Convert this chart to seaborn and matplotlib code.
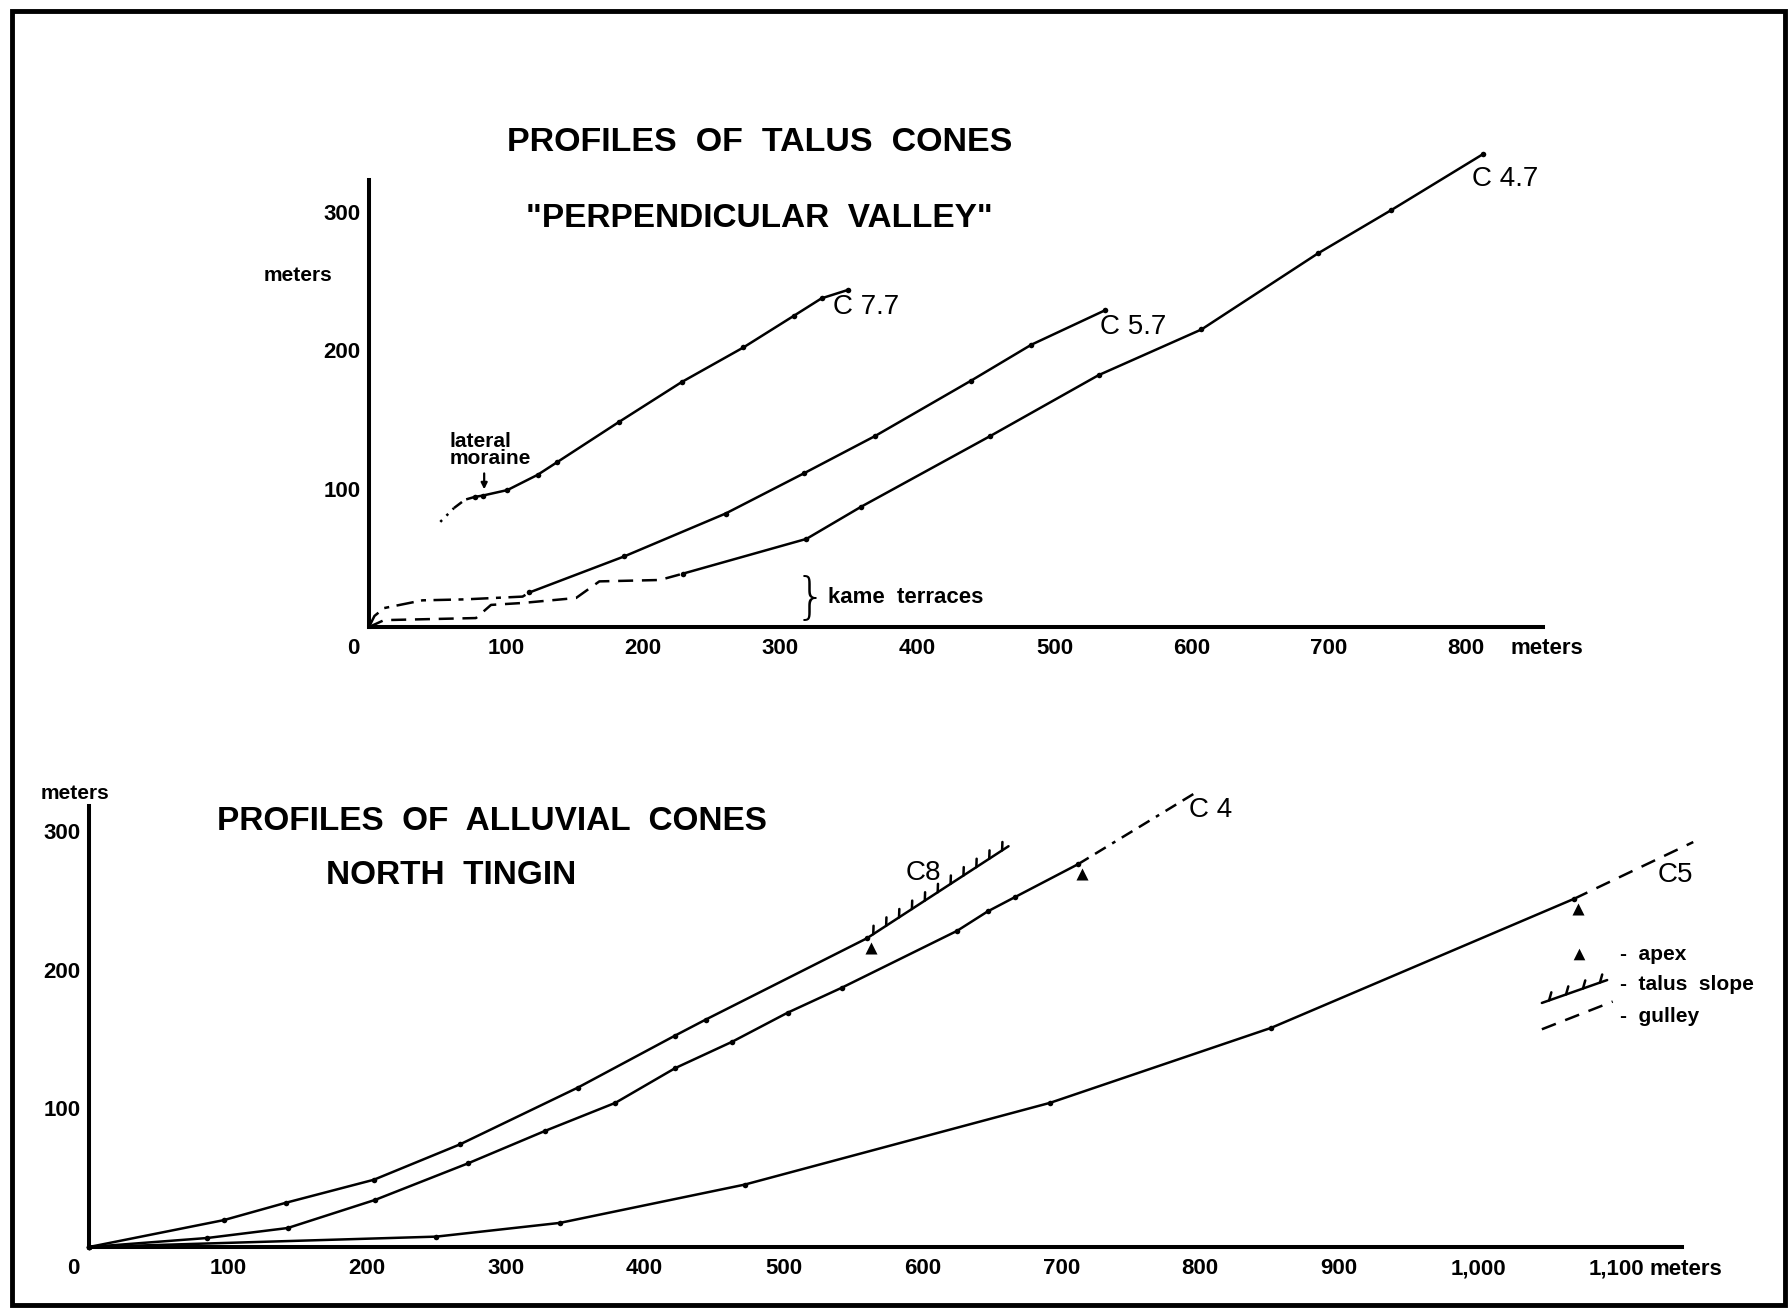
import matplotlib
matplotlib.use("Agg")
import matplotlib.pyplot as plt
import matplotlib.patheffects as pe
from matplotlib.patches import Rectangle
from matplotlib.transforms import offset_copy, ScaledTranslation
import seaborn as sns

# ---------------- Talus cones, "Perpendicular Valley" (distance m, height m) ----------------
c77_moraine_dot_x = [52, 62]
c77_moraine_dot_y = [76, 86]
c77_moraine_dash_x = [62, 70, 77]
c77_moraine_dash_y = [86, 92, 94]
c77_x = [77, 83, 101, 123, 137, 182, 228, 273, 310, 330, 349]
c77_y = [94, 95, 99, 110, 119, 148, 177, 202, 225, 237.5, 243.5]

c57_kame_x = [0, 4, 11, 39, 70, 112, 117]
c57_kame_y = [0, 8, 13.7, 19.3, 20, 22, 25]
c57_x = [117, 186, 260, 317, 369, 439, 483, 537]
c57_y = [25, 51, 82, 111, 138, 178, 204, 229]

c47_kame_x = [0, 11, 78, 89, 112, 151, 168, 212, 229]
c47_kame_y = [0, 5, 6.5, 16, 17.4, 21, 33, 34, 38.6]
c47_x = [229, 319, 359, 453, 532, 607, 692, 745, 812]
c47_y = [38.6, 63.7, 87, 138, 182, 215, 270, 301, 341.5]

top_xticks = [0, 100, 200, 300, 400, 500, 600, 700, 800]
top_xlabels = ["0", "100", "200", "300", "400", "500", "600", "700", "800"]
top_yticks = [100, 200, 300]
top_ylabels = ["100", "200", "300"]

# ---------------- Alluvial cones, North Tingin ----------------
c8_x = [0, 97, 142, 205, 267, 352, 422, 444, 560]
c8_y = [0, 19.4, 32, 48.5, 74, 115, 152.5, 164, 222.6]
c8_talus_x = [560, 662]
c8_talus_y = [222.6, 289]

c4_x = [0, 85, 143, 206, 273, 328, 379, 422, 463, 503, 542, 625, 647, 667, 712]
c4_y = [0, 6.5, 13.7, 34, 60.4, 83.6, 104, 129, 148, 169, 187, 228, 242, 252.5, 276]
c4_gully_x = [712, 799]
c4_gully_y = [276, 329]

c5_x = [0, 250, 339, 472, 692, 851, 1069]
c5_y = [0, 7.5, 17.4, 45, 104, 158, 251]
c5_gully_x = [1069, 1155]
c5_gully_y = [251, 292]

apex_x = [560, 712, 1069]
apex_y = [222.6, 276, 251]

bot_xticks = [0, 100, 200, 300, 400, 500, 600, 700, 800, 900, 1000, 1100]
bot_xlabels = ["0", "100", "200", "300", "400", "500", "600", "700", "800", "900", "1,000", "1,100"]
bot_yticks = [100, 200, 300]
bot_ylabels = ["100", "200", "300"]

# ---------------- styling ----------------
sns.set_theme(style="white")
FONT = ["Liberation Sans Narrow", "Liberation Sans", "DejaVu Sans"]
plt.rcParams["font.family"] = FONT
plt.rcParams["axes.linewidth"] = 2.9

INK = "black"
LW = 1.8
TALUS = [pe.withTickedStroke(angle=55, spacing=11, length=0.55, linewidth=1.8)]

fig = plt.figure(figsize=(17.92, 13.11), dpi=100)
fig.patch.set_facecolor("white")

ax1 = fig.add_axes([0.2059, 0.5217, 0.6551, 0.3410])
ax2 = fig.add_axes([0.0497, 0.0488, 0.8890, 0.3364])


def trace(ax, x, y, ls="-", dots=False, **extra):
    sns.lineplot(x=x, y=y, ax=ax, color=INK, lw=LW, linestyle=ls, sort=False,
                 estimator=None, clip_on=False, **extra)
    if dots:
        sns.scatterplot(x=x, y=y, ax=ax, color=INK, s=16, edgecolor=None,
                        linewidth=0, clip_on=False, zorder=4)


def frame_axes(ax, xmax, ymax, xt, xl, yt, yl):
    ax.set_xlim(0, xmax)
    ax.set_ylim(0, ymax)
    for s in ("top", "right"):
        ax.spines[s].set_visible(False)
    for s in ("left", "bottom"):
        ax.spines[s].set_color(INK)
        ax.spines[s].set_linewidth(2.9)
    ax.set_facecolor("none")
    ax.set_xticks(xt)
    ax.set_xticklabels(xl)
    ax.set_yticks(yt)
    ax.set_yticklabels(yl)
    ax.tick_params(axis="x", direction="in", length=5, width=2, pad=8,
                   labelsize=16, colors=INK)
    ax.tick_params(axis="y", direction="out", length=5, width=2, pad=1,
                   labelsize=16, colors=INK)
    for lab in ax.get_xticklabels() + ax.get_yticklabels():
        lab.set_fontweight("bold")
    for lab in ax.get_xticklabels():
        if lab.get_text() == "0":
            lab.set_transform(lab.get_transform() +
                              ScaledTranslation(-0.16, 0, fig.dpi_scale_trans))
    ax.set_xlabel("")
    ax.set_ylabel("")
    ax.grid(False)


# ---------------- top panel ----------------
trace(ax1, c77_moraine_dot_x, c77_moraine_dot_y, ls=(0, (1, 2.5)))
trace(ax1, c77_moraine_dash_x, c77_moraine_dash_y, ls=(0, (4, 2)))
trace(ax1, c77_x, c77_y, dots=True)
trace(ax1, c57_kame_x, c57_kame_y, ls=(0, (7, 3, 2, 3)))
trace(ax1, c57_x, c57_y, dots=True)
trace(ax1, c47_kame_x, c47_kame_y, ls=(0, (6, 3.5)))
trace(ax1, c47_x, c47_y, dots=True)

frame_axes(ax1, 856, 323, top_xticks, top_xlabels, top_yticks, top_ylabels)

ax1.text(285, 350, "PROFILES  OF  TALUS  CONES", ha="center", va="center",
         fontsize=24.5, fontweight="bold", color=INK)
ax1.text(285, 295, "\"PERPENDICULAR  VALLEY\"", ha="center", va="center",
         fontsize=24, fontweight="bold", color=INK)
ax1.text(-52, 254, "meters", ha="center", va="center", fontsize=15,
         fontweight="bold", color=INK)
ax1.text(338, 231, "C 7.7", ha="left", va="center", fontsize=20, color=INK)
ax1.text(533, 217, "C 5.7", ha="left", va="center", fontsize=20, color=INK)
ax1.text(804, 324, "C 4.7", ha="left", va="center", fontsize=20, color=INK)
ax1.text(59, 128, "lateral\nmoraine", ha="left", va="center", fontsize=15,
         fontweight="bold", color=INK, linespacing=0.9)
ax1.annotate("", xy=(84, 99.5), xytext=(84, 111),
             arrowprops=dict(arrowstyle="-|>", lw=1.6, color=INK,
                             mutation_scale=9, shrinkA=0, shrinkB=0))
ax1.text(322, 20, "}", ha="center", va="center", fontsize=36,
         fontweight="light", color=INK, family=["DejaVu Sans"])
ax1.text(335, 21.5, "kame  terraces", ha="left", va="center", fontsize=16,
         fontweight="bold", color=INK)
ax1.annotate("meters", xy=(800, 0), xycoords="data", xytext=(44, -11),
             textcoords="offset pixels", ha="left", va="top", fontsize=16,
             fontweight="bold", color=INK)

# ---------------- bottom panel ----------------
trace(ax2, c8_x, c8_y, dots=True)
trace(ax2, c8_talus_x, c8_talus_y, path_effects=TALUS)
trace(ax2, c4_x, c4_y, dots=True)
trace(ax2, c4_gully_x, c4_gully_y, ls=(0, (5, 3, 5, 3, 1.5, 3)))
trace(ax2, c5_x, c5_y, dots=True)
trace(ax2, c5_gully_x, c5_gully_y, ls=(0, (6, 4)))

apex_tr = offset_copy(ax2.transData, fig=fig, x=4, y=-10, units="dots")
sns.scatterplot(x=apex_x, y=apex_y, ax=ax2, marker="^", s=75, color=INK,
                edgecolor=None, linewidth=0, transform=apex_tr, clip_on=False,
                zorder=5)

frame_axes(ax2, 1147, 318, bot_xticks, bot_xlabels, bot_yticks, bot_ylabels)

ax2.text(290, 307, "PROFILES  OF  ALLUVIAL  CONES", ha="center", va="center",
         fontsize=24, fontweight="bold", color=INK)
ax2.text(261, 268, "NORTH  TINGIN", ha="center", va="center",
         fontsize=24, fontweight="bold", color=INK)
ax2.text(-10, 327, "meters", ha="center", va="center", fontsize=15,
         fontweight="bold", color=INK)
ax2.text(588, 270, "C8", ha="left", va="center", fontsize=20, color=INK)
ax2.text(792, 315, "C 4", ha="left", va="center", fontsize=20, color=INK)
ax2.text(1129, 268, "C5", ha="left", va="center", fontsize=20, color=INK)
ax2.annotate("meters", xy=(1100, 0), xycoords="data", xytext=(33, -12),
             textcoords="offset pixels", ha="left", va="top", fontsize=16,
             fontweight="bold", color=INK)

# hand-drawn key
sns.scatterplot(x=[1073], y=[211], ax=ax2, marker="^", s=70, color=INK,
                edgecolor=None, linewidth=0, clip_on=False)
sns.lineplot(x=[1046, 1093], y=[176, 192.5], ax=ax2, color=INK, lw=LW,
             sort=False, estimator=None, clip_on=False, path_effects=TALUS)
sns.lineplot(x=[1046, 1097], y=[157, 177], ax=ax2, color=INK, lw=LW,
             linestyle=(0, (6, 4)), sort=False, estimator=None, clip_on=False)
for ky, txt in [(211, "-  apex"), (189, "-  talus  slope"), (166, "-  gulley")]:
    ax2.text(1102, ky, txt, ha="left", va="center", fontsize=15,
             fontweight="bold", color=INK)

ax1.set_xlim(0, 856)
ax1.set_ylim(0, 323)
ax2.set_xlim(0, 1147)
ax2.set_ylim(0, 318)

# outer frame
fig.add_artist(Rectangle((12 / 1792, 6 / 1311), 1773 / 1792, 1294 / 1311,
                         transform=fig.transFigure, fill=False,
                         edgecolor=INK, linewidth=3.5))

fig.savefig("out.png", dpi=100, facecolor="white")
